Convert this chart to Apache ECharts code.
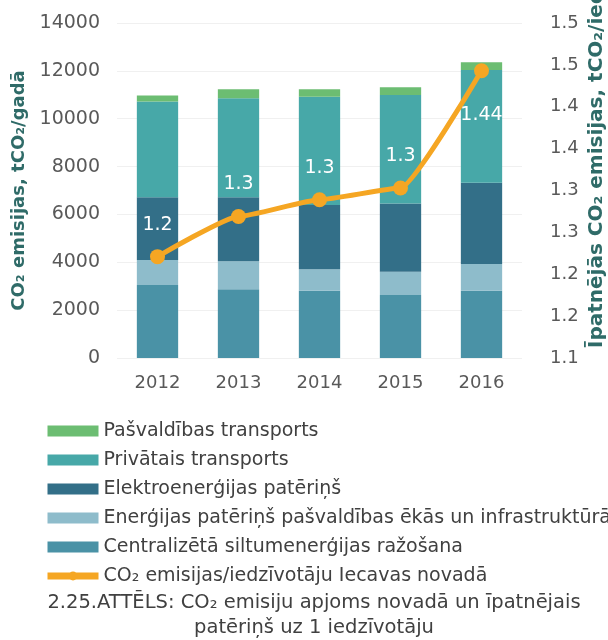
<!DOCTYPE html>
<html>
<head>
<meta charset="utf-8">
<script src="https://cdn.jsdelivr.net/npm/echarts@6/dist/echarts.min.js"></script>
<style>
  html, body { margin: 0; padding: 0; background: #fff; }
  #chart { width: 608px; height: 640px; }
</style>
</head>
<body>
<div id="chart"></div>
<script>
// CO2 emissions by sector, Iecava municipality
const years = ['2012', '2013', '2014', '2015', '2016'];

const centralHeat = [3050, 2870, 2810, 2630, 2810];
const municipalBuildings = [1045, 1170, 895, 975, 1115];
const electricity = [2620, 2675, 2690, 2855, 3400];
const privateTransport = [4000, 4140, 4525, 4530, 4710];
const municipalTransport = [250, 375, 310, 320, 320];

const perCapita = [1.221, 1.269, 1.289, 1.303, 1.443];
const perCapitaLabels = ['1.2', '1.3', '1.3', '1.3', '1.44'];

const rightTickLabels = ['1.1', '1.2', '1.2', '1.3', '1.3', '1.4', '1.4', '1.5', '1.5'];

const fontFamily = '"DejaVu Sans", sans-serif';
const tickColor = '#595959';
const titleColor = '#2f6b68';
const orange = '#f5a623';

const chart = echarts.init(document.getElementById('chart'));

function barSeries(name, data, color) {
    return {
        name: name,
        type: 'bar',
        stack: 'co2',
        barWidth: '51%',
        data: data,
        itemStyle: { color: color },
        emphasis: { disabled: true }
    };
}

const option = {
    backgroundColor: '#fff',
    animation: false,
    textStyle: { fontFamily: fontFamily },
    grid: { left: 117, right: 86, top: 23, bottom: 282, containLabel: false },
    legend: {
        orient: 'vertical',
        left: 39,
        top: 416,
        itemWidth: 51,
        itemHeight: 11,
        itemGap: 9,
        itemStyle: { borderWidth: 0 },
        textStyle: { color: '#404040', fontSize: 19, lineHeight: 20, fontFamily: fontFamily },
        data: [
            { name: 'Pašvaldības transports', icon: 'rect' },
            { name: 'Privātais transports', icon: 'rect' },
            { name: 'Elektroenerģijas patēriņš', icon: 'rect' },
            { name: 'Enerģijas patēriņš pašvaldības ēkās un infrastruktūrā', icon: 'rect' },
            { name: 'Centralizētā siltumenerģijas ražošana', icon: 'rect' },
            {
                name: 'CO₂ emisijas/iedzīvotāju Iecavas novadā',
                lineStyle: { width: 7, color: orange },
                itemStyle: { color: orange }
            }
        ]
    },
    graphic: [
        {
            type: 'text',
            x: 597,
            y: 348,
            rotation: Math.PI / 2,
            style: {
                text: 'Īpatnējās CO₂ emisijas, tCO₂/iedz',
                fill: titleColor,
                font: 'bold 20px "DejaVu Sans", sans-serif',
                align: 'left',
                verticalAlign: 'middle'
            }
        },
        {
            type: 'text',
            x: 314,
            y: 603,
            style: {
                text: '2.25.ATTĒLS: CO₂ emisiju apjoms novadā un īpatnējais',
                fill: '#404040',
                font: '19.5px "DejaVu Sans", sans-serif',
                align: 'center',
                verticalAlign: 'middle'
            }
        },
        {
            type: 'text',
            x: 314,
            y: 628,
            style: {
                text: 'patēriņš uz 1 iedzīvotāju',
                fill: '#404040',
                font: '19.5px "DejaVu Sans", sans-serif',
                align: 'center',
                verticalAlign: 'middle'
            }
        }
    ],
    xAxis: {
        type: 'category',
        data: years,
        axisLine: { show: false },
        axisTick: { show: false },
        axisLabel: { color: tickColor, fontSize: 18, margin: 16 }
    },
    yAxis: [
        {
            type: 'value',
            min: 0,
            max: 14000,
            interval: 2000,
            name: 'CO₂ emisijas, tCO₂/gadā',
            nameLocation: 'middle',
            nameGap: 84,
            nameTextStyle: { color: titleColor, fontSize: 18, fontWeight: 'bold' },
            axisLine: { show: false },
            axisTick: { show: false },
            axisLabel: { color: tickColor, fontSize: 19, margin: 17, formatter: (v) => String(v) },
            splitLine: { lineStyle: { color: '#f0f0f0', width: 1 } }
        },
        {
            type: 'value',
            min: 1.1,
            max: 1.5,
            interval: 0.05,
            position: 'right',
            axisLine: { show: false },
            axisTick: { show: false },
            axisLabel: {
                color: tickColor,
                fontSize: 18,
                margin: 28,
                formatter: (v) => rightTickLabels[Math.round((v - 1.1) / 0.05)]
            },
            splitLine: { show: false }
        }
    ],
    series: [
        barSeries('Centralizētā siltumenerģijas ražošana', centralHeat, '#4a92a6'),
        barSeries('Enerģijas patēriņš pašvaldības ēkās un infrastruktūrā', municipalBuildings, '#8ebccb'),
        barSeries('Elektroenerģijas patēriņš', electricity, '#336f88'),
        barSeries('Privātais transports', privateTransport, '#47a8a8'),
        barSeries('Pašvaldības transports', municipalTransport, '#6cbd72'),
        {
            name: 'CO₂ emisijas/iedzīvotāju Iecavas novadā',
            type: 'line',
            yAxisIndex: 1,
            data: perCapita.map((v, i) => i === perCapita.length - 1
                ? { value: v, label: { position: 'bottom', distance: 27, offset: [3, 0] } }
                : v),
            smooth: 0.15,
            smoothMonotone: 'x',
            symbol: 'circle',
            symbolSize: 15,
            lineStyle: { color: orange, width: 5 },
            itemStyle: { color: orange },
            label: {
                show: true,
                position: 'top',
                distance: 15,
                color: '#ffffff',
                fontSize: 19,
                formatter: (p) => perCapitaLabels[p.dataIndex]
            },
            labelLayout: { hideOverlap: false },
            emphasis: { disabled: true },
            z: 5
        }
    ]
};

chart.setOption(option);
</script>
</body>
</html>
